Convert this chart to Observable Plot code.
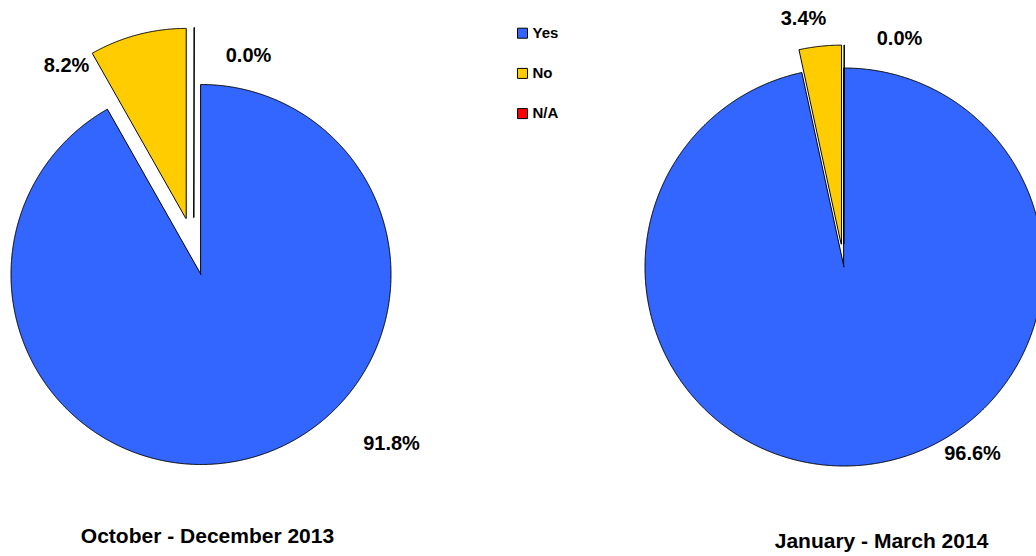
<!DOCTYPE html>
<html>
<head>
<meta charset="utf-8">
<script src="https://cdn.jsdelivr.net/npm/d3@7"></script>
<script src="https://cdn.jsdelivr.net/npm/@observablehq/plot@0.6"></script>
<style>
  html, body { margin: 0; padding: 0; background: #ffffff; overflow: hidden; width: 1036px; height: 556px; }
  #chart svg { display: block; }
</style>
</head>
<body>
<div id="chart"></div>
<script>
// ---------- data ----------
const categories = ["Yes", "No", "N/A"];
const categoryColors = ["#3366FF", "#FFCC00", "#FF0000"];
const periods = ["October - December 2013", "January - March 2014"];
const valuesOct2013 = [91.8, 8.2, 0.0];
const valuesJan2014 = [96.6, 3.4, 0.0];
const seriesValues = [valuesOct2013, valuesJan2014];

// ---------- layout (pixels) ----------
const pieLayout = [
  { cx: 201, cy: 274.5, r: 190, explode: [0, 58, 0], zeroShift: [-7, -57],
    labelOffsets: [[190, 169], [-135, -209.5], [47, -219.5]], titlePos: [207, 536] },
  { cx: 844, cy: 267, r: 199, explode: [0, 23, 0], zeroShift: [0, -23],
    labelOffsets: [[128, 186], [-41, -249], [55, -228.5]], titlePos: [881, 541] }
];
const legendX = 522, legendTextX = 532, legendTop = 32.7, legendGap = 40.2;

// ---------- derived geometry ----------
const rad = Math.PI / 180;
const slicePts = [];
const labels = [];
const titles = [];
seriesValues.forEach((vals, p) => {
  const L = pieLayout[p];
  const total = d3.sum(vals);
  let a = 0;
  vals.forEach((v, i) => {
    const span = v / total * 360;
    const a0 = a, a1 = a + span; a = a1;
    const mid = (a0 + a1) / 2;
    let dx, dy;
    if (span === 0) { [dx, dy] = L.zeroShift; }
    else { dx = L.explode[i] * Math.sin(mid * rad); dy = -L.explode[i] * Math.cos(mid * rad); }
    const n = Math.max(1, Math.ceil(span / 0.25));
    const id = p + "-" + i;
    const ox = L.cx + dx, oy = L.cy + dy;
    for (let k = 0; k <= n; k++) {
      const t = a0 + span * k / n;
      slicePts.push({ id, category: categories[i], cx: ox, cy: oy,
        x: ox + L.r * Math.sin(t * rad), y: oy - L.r * Math.cos(t * rad) });
    }
    labels.push({ x: L.cx + L.labelOffsets[i][0], y: L.cy + L.labelOffsets[i][1],
      text: d3.format(".1f")(v) + "%" });
  });
  titles.push({ x: L.titlePos[0], y: L.titlePos[1], text: periods[p] });
});
const legend = categories.map((c, i) => ({ category: c, y: legendTop + i * legendGap }));

const font = "'Liberation Sans', Arial, Helvetica, sans-serif";

const chart = Plot.plot({
  width: 1036,
  height: 556,
  margin: 0,
  x: { domain: [0, 1036], range: [0, 1036], axis: null },
  y: { domain: [0, 556], range: [0, 556], axis: null },
  color: { domain: categories, range: categoryColors },
  style: { fontFamily: font, background: "#ffffff", overflow: "hidden" },
  marks: [
    Plot.area(slicePts, { x1: "cx", y1: "cy", x2: "x", y2: "y", z: "id", fill: "category",
      stroke: "#000000", strokeWidth: 1, strokeLinejoin: "miter" }),
    Plot.text(labels, { x: "x", y: "y", text: "text", fontSize: 20, fontWeight: "bold", fill: "#000000" }),
    Plot.text(titles, { x: "x", y: "y", text: "text", fontSize: 21, fontWeight: "bold", fill: "#000000" }),
    Plot.dot(legend, { x: () => legendX, y: "y", symbol: "square", r: 5.64, fill: "category",
      stroke: "#000000", strokeWidth: 1 }),
    Plot.text(legend, { x: () => legendTextX, y: "y", text: "category", textAnchor: "start",
      fontSize: 15, fontWeight: "bold", fill: "#000000" })
  ]
});
document.getElementById("chart").appendChild(chart);
</script>
</body>
</html>
